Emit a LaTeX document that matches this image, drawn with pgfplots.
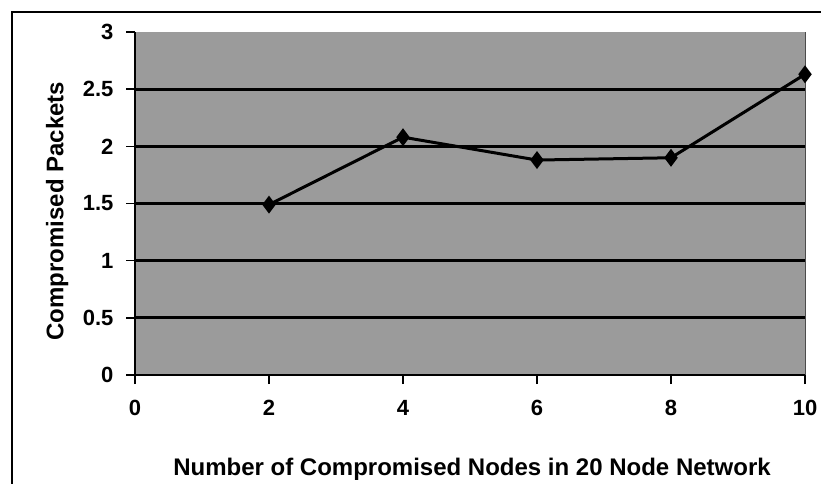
\documentclass[border=0pt]{standalone}
\usepackage{pgfplots}
\pgfplotsset{compat=1.18}
\usepackage{fontspec}
\setmainfont{Liberation Sans}
\definecolor{bggray}{RGB}{155,155,155}
\begin{document}
\begin{tikzpicture}
\useasboundingbox (-135pt,-109pt) rectangle (686pt,375pt);
\begin{axis}[
  at={(0,0)}, anchor=south west,
  scale only axis, width=670pt, height=343pt,
  xmin=0, xmax=10, ymin=0, ymax=3,
  clip=false,
  xtick={0,2,4,6,8,10},
  xticklabels={0,2,4,6,8,10},
  ytick={0.5,1,1.5,2,2.5},
  yticklabels={0.5,1,1.5,2,2.5},
  extra y ticks={0,3},
  extra y tick labels={0,3},
  extra y tick style={grid=none},
  axis x line*=bottom, axis y line*=left,
  axis line style={black, line width=1.4pt, -},
  tick style={black, line width=1.4pt},
  tick align=outside, major tick length=9pt,
  ymajorgrids, grid style={black, line width=2.8pt},
  axis background/.style={fill=bggray},
  ticklabel style={font=\fontsize{22}{22}\selectfont\bfseries},
  xticklabel style={yshift=-13pt},
  yticklabel style={xshift=-9pt},
  xlabel={Number of Compromised Nodes in 20 Node Network},
  ylabel={Compromised Packets},
  xlabel style={at={(axis description cs:0.503,-0.274)}, anchor=center, font=\fontsize{24}{24}\selectfont\bfseries},
  ylabel style={at={(axis description cs:-0.116,0.478)}, anchor=center, rotate=0, font=\fontsize{24}{24}\selectfont\bfseries},
]
\draw[black!70, line width=0.8pt] (rel axis cs:1,0) -- (rel axis cs:1,1);
\addplot[black, line width=3pt, mark=diamond*, mark size=6.5pt, mark options={solid}]
  coordinates {(2,1.49) (4,2.08) (6,1.88) (8,1.90) (10,2.63)};
\end{axis}
\draw[black, line width=1.8pt] (-123pt,-115pt) -- (-123pt,363pt) -- (690pt,363pt);
\end{tikzpicture}
\end{document}
